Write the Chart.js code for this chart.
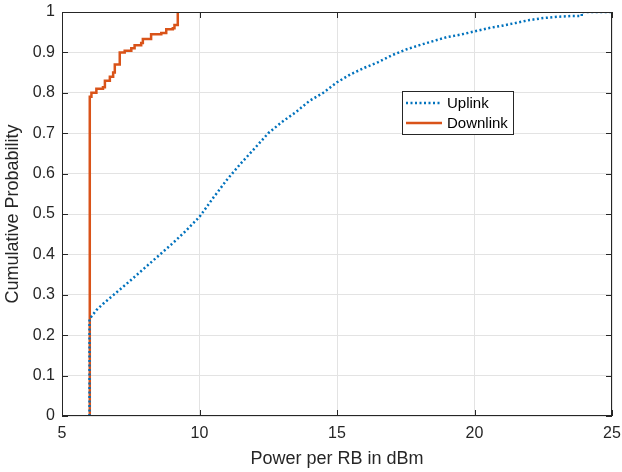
<!DOCTYPE html>
<html>
<head>
<meta charset="utf-8">
<script src="https://cdn.jsdelivr.net/npm/chart.js@4"></script>
<style>
  body { margin: 0; background: #fff; }
  #cdf { display: block; }
</style>
</head>
<body>
<canvas id="cdf" width="622" height="472"></canvas>
<script>
// uplink CDF
const uplinkX = [6, 6, 6.25, 6.5, 7, 7.5, 8, 8.5, 9, 9.5, 10, 10.5, 11, 11.5, 12, 12.5, 13, 13.5, 14, 14.5, 15, 15.5, 16, 16.5, 17, 17.5, 18, 18.5, 19, 19.5, 20, 20.5, 21, 21.5, 22, 22.5, 23, 23.5, 23.9, 23.9, 25];
const uplinkY = [0, 0.24, 0.262, 0.278, 0.307, 0.336, 0.366, 0.396, 0.426, 0.458, 0.493, 0.54, 0.585, 0.625, 0.662, 0.70, 0.728, 0.752, 0.78, 0.80, 0.826, 0.846, 0.862, 0.876, 0.893, 0.907, 0.918, 0.928, 0.938, 0.944, 0.952, 0.96, 0.966, 0.973, 0.98, 0.985, 0.988, 0.99, 0.99, 1.0, 1.0];

// downlink CDF (stepped)
const downlinkX = [6.01, 6.01, 6.07, 6.25, 6.49, 6.56, 6.74, 6.86, 6.92, 7.10, 7.28, 7.52, 7.64, 7.88, 7.94, 8.24, 8.61, 8.79, 9.03, 9.09, 9.21, 9.21];
const downlinkY = [0, 0.79, 0.80, 0.81, 0.814, 0.83, 0.84, 0.85, 0.87, 0.90, 0.904, 0.91, 0.918, 0.923, 0.933, 0.945, 0.948, 0.957, 0.96, 0.968, 0.97, 1.0];

const seriesNames = ["Uplink", "Downlink"];
const xTicks = [5, 10, 15, 20, 25];
const yTicks = [0, 0.1, 0.2, 0.3, 0.4, 0.5, 0.6, 0.7, 0.8, 0.9, 1];

const FONT = "'Liberation Sans', Arial, sans-serif";

function toPoints(xs, ys) {
  return xs.map(function (x, i) { return { x: x, y: ys[i] }; });
}

// black box around the axes + inward ticks, MATLAB style
const boxPlugin = {
  id: "box",
  afterDraw: function (chart) {
    const ctx = chart.ctx;
    const a = chart.chartArea;
    const xs = chart.scales.x, ys = chart.scales.y;
    ctx.save();
    ctx.strokeStyle = "#262626";
    ctx.lineWidth = 1;
    ctx.strokeRect(Math.round(a.left) + 0.5, Math.round(a.top) + 0.5,
      Math.round(a.right - a.left) - 1, Math.round(a.bottom - a.top) - 1);
    ctx.beginPath();
    xTicks.forEach(function (v) {
      const p = Math.round(xs.getPixelForValue(v)) + 0.5;
      ctx.moveTo(p, a.bottom); ctx.lineTo(p, a.bottom - 6);
      ctx.moveTo(p, a.top); ctx.lineTo(p, a.top + 6);
    });
    yTicks.forEach(function (v) {
      const p = Math.round(ys.getPixelForValue(v)) + 0.5;
      ctx.moveTo(a.left, p); ctx.lineTo(a.left + 6, p);
      ctx.moveTo(a.right, p); ctx.lineTo(a.right - 6, p);
    });
    ctx.stroke();
    ctx.restore();
  },
};

// legend box placed inside the plot
const legendPlugin = {
  id: "boxLegend",
  afterDraw: function (chart) {
    const ctx = chart.ctx;
    const x0 = 402, y0 = 91, w = 111, h = 43;
    ctx.save();
    ctx.fillStyle = "#fff";
    ctx.fillRect(x0, y0, w, h);
    ctx.strokeStyle = "#262626";
    ctx.lineWidth = 1;
    ctx.strokeRect(x0 + 0.5, y0 + 0.5, w, h);
    ctx.font = "15px " + FONT;
    ctx.textBaseline = "middle";
    chart.data.datasets.forEach(function (ds, i) {
      const ly = y0 + 12 + i * 20;
      ctx.beginPath();
      ctx.strokeStyle = ds.borderColor;
      ctx.lineWidth = ds.borderWidth;
      ctx.setLineDash(ds.borderDash || []);
      ctx.moveTo(x0 + 4, ly);
      ctx.lineTo(x0 + 40, ly);
      ctx.stroke();
      ctx.setLineDash([]);
      ctx.fillStyle = "#000";
      ctx.fillText(ds.label, x0 + 45, ly + 1);
    });
    ctx.restore();
  },
};

const ctx = document.getElementById("cdf");
new Chart(ctx, {
  type: "scatter",
  data: {
    datasets: [
      {
        label: seriesNames[0],
        data: toPoints(uplinkX, uplinkY),
        showLine: true,
        borderColor: "#0072BD",
        borderWidth: 2.5,
        borderDash: [2, 2.5],
        pointRadius: 0,
        tension: 0,
      },
      {
        label: seriesNames[1],
        data: toPoints(downlinkX, downlinkY),
        showLine: true,
        stepped: "before",
        borderColor: "#D95319",
        borderWidth: 2.5,
        pointRadius: 0,
        tension: 0,
      },
    ],
  },
  options: {
    responsive: false,
    animation: false,
    layout: { padding: { top: 12, right: 10, left: 0, bottom: 0 } },
    plugins: {
      legend: { display: false },
      tooltip: { enabled: false },
    },
    scales: {
      x: {
        type: "linear",
        min: 5,
        max: 25,
        afterBuildTicks: function (axis) {
          axis.ticks = xTicks.map(function (v) { return { value: v }; });
        },
        afterFit: function (axis) {
          axis.height = 56;
          axis.paddingLeft = 0;
          axis.paddingRight = 0;
        },
        grid: { color: "#e3e3e3", drawTicks: false },
        border: { display: false },
        ticks: {
          padding: 8,
          color: "#262626",
          font: { family: FONT, size: 16 },
        },
        title: {
          display: true,
          text: "Power per RB in dBm",
          color: "#262626",
          padding: { top: 0, bottom: 2 },
          font: { family: FONT, size: 18 },
        },
      },
      y: {
        min: 0,
        max: 1,
        afterBuildTicks: function (axis) {
          axis.ticks = yTicks.map(function (v) { return { value: v }; });
        },
        afterFit: function (axis) {
          axis.width = 62;
          axis.paddingTop = 0;
          axis.paddingBottom = 0;
        },
        grid: { color: "#e3e3e3", drawTicks: false },
        border: { display: false },
        ticks: {
          padding: 7,
          color: "#262626",
          font: { family: FONT, size: 16 },
          callback: function (value) {
            return Math.round(value * 10) / 10;
          },
        },
        title: {
          display: true,
          text: "Cumulative Probability",
          color: "#262626",
          padding: { top: 2, bottom: 0 },
          font: { family: FONT, size: 18 },
        },
      },
    },
  },
  plugins: [boxPlugin, legendPlugin],
});
</script>
</body>
</html>
